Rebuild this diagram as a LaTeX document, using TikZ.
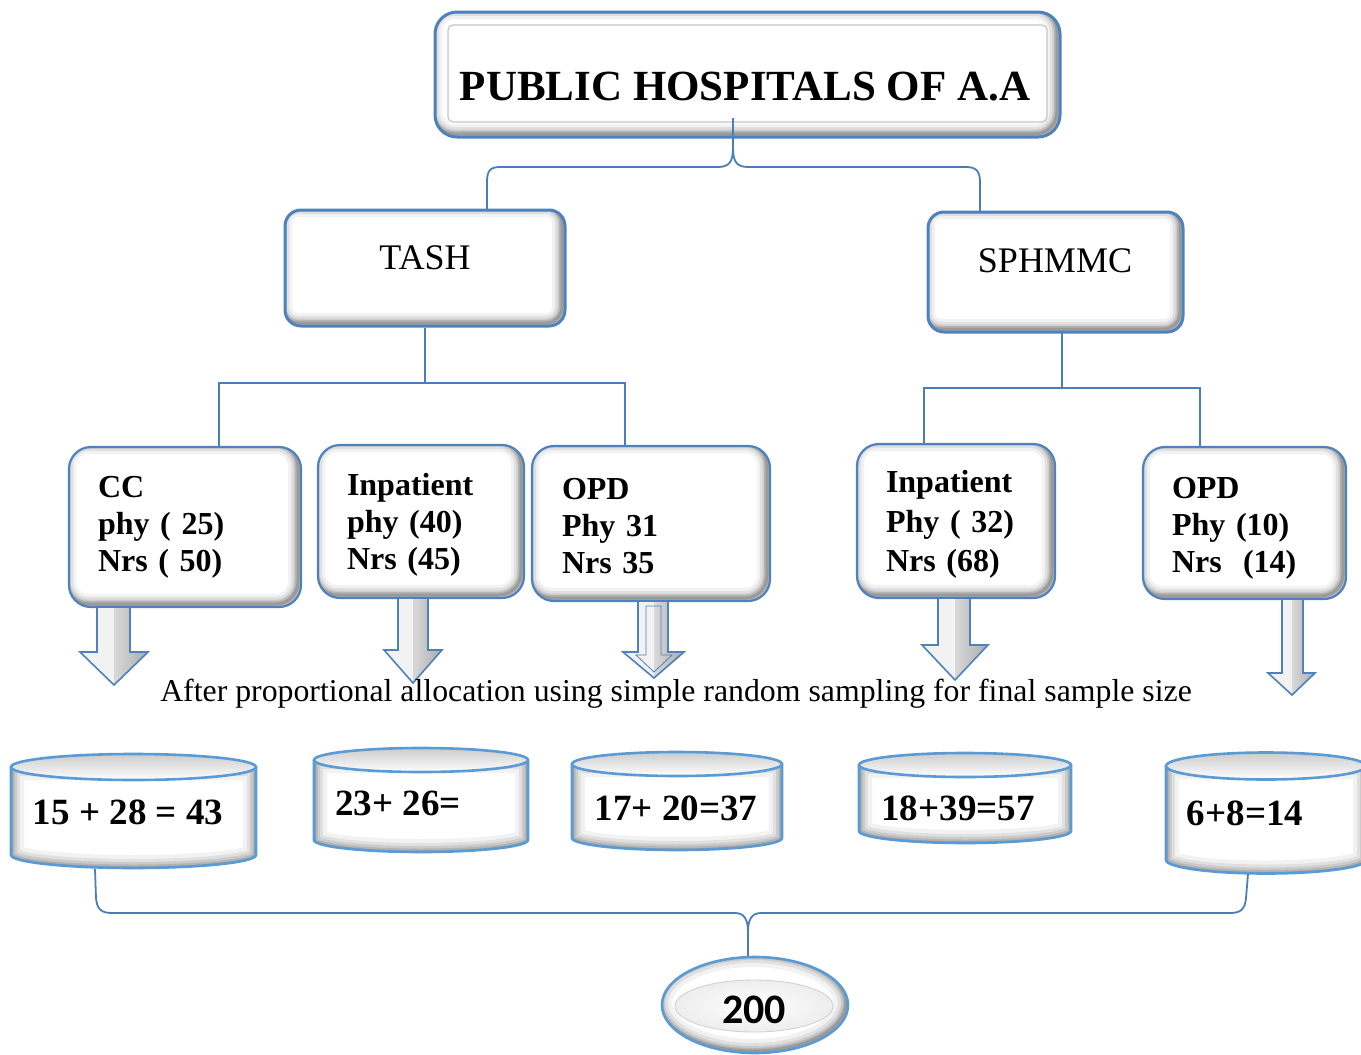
\documentclass[tikz,border=0pt]{standalone}
\usepackage{fontspec}
\setmainfont{Liberation Serif}
\newfontfamily\carlito{Carlito}
\usetikzlibrary{shapes.geometric}
\definecolor{bblue}{RGB}{79,129,189}
\definecolor{cblue}{RGB}{91,155,213}
\definecolor{lblue}{RGB}{74,126,187}
\tikzset{
  glow/.style={path picture={
    \foreach \w/\o in {20/0.05,14/0.07,9/0.09,6/0.11,3/0.14}{
      \draw[black,opacity=\o,line width=\w pt,rounded corners=#1]
        ([shift={(-3pt,3pt)}]path picture bounding box.north west) rectangle
        ([shift={(-3pt,3pt)}]path picture bounding box.south east);}}},
  leaf/.style={draw=bblue, line width=2.2pt, fill=white, rounded corners=22pt,
    align=left, inner ysep=0pt, inner xsep=29pt, glow=22pt,
    font=\fontsize{32}{37}\selectfont\bfseries},
  mid/.style={draw=bblue, line width=3pt, fill=white, rounded corners=16pt, glow=16pt},
  conn/.style={draw=lblue, line width=1.3pt},
  brace/.style={draw=lblue, line width=1.8pt},
  cyltext/.style={inner sep=0pt, font=\fontsize{37}{44}\selectfont\bfseries},
}
% block arrow: x1 x2 ytop neck hx1 hx2 tip cx
\newcommand\barrow[8]{%
  \fill[gray!10] (#1,#3) -- (#8,#3) -- (#8,#7) -- (#5,#4) -- (#1,#4) -- cycle;
  \shade[left color=gray!30, right color=gray!65] (#8,#3) -- (#2,#3) -- (#2,#4) -- (#6,#4) -- (#8,#7) -- cycle;
  \draw[bblue, line width=1.6pt, line join=miter] (#1,#3) -- (#1,#4) -- (#5,#4) -- (#8,#7) -- (#6,#4) -- (#2,#4) -- (#2,#3);
}
% cylinder: cx ytop ybot rx ry
\newcommand\cyl[5]{%
  \begin{scope}
    \path[clip] ({#1-#4},#2) -- ({#1-#4},#3) arc[start angle=180,end angle=360,x radius=#4pt,y radius=#5pt] -- ({#1+#4},#2) -- cycle;
    \fill[white] ({#1-#4},{#2-20}) rectangle ({#1+#4},{#3+#5+5});
    \foreach \w/\o in {26/0.05,18/0.07,12/0.09,7/0.11,3/0.14}{
      \draw[black,opacity=\o,line width=\w pt] ({#1-#4},#2) -- ({#1-#4},#3) arc[start angle=180,end angle=360,x radius=#4pt,y radius=#5pt] -- ({#1+#4},#2) -- cycle;}
  \end{scope}
  \draw[cblue, line width=2.6pt] ({#1-#4},#2) -- ({#1-#4},#3) arc[start angle=180,end angle=360,x radius=#4pt,y radius=#5pt] -- ({#1+#4},#2);
  \shade[top color=gray!40, bottom color=white] (#1,#2) ellipse[x radius=#4pt, y radius=#5pt];
  \draw[cblue, line width=2.6pt] (#1,#2) ellipse[x radius=#4pt, y radius=#5pt];
}
\begin{document}
\begin{tikzpicture}[x=1pt,y=-1pt]
\useasboundingbox (0,0) rectangle (1361,1055);
\fill[white] (0,0) rectangle (1361,1055);

% title
\node[draw=bblue, line width=3pt, fill=white, rounded corners=22pt, glow=22pt,
  minimum width=625pt, minimum height=125pt, inner sep=0pt] (title) at (747.5,74.5) {};
\draw[gray!45, line width=1.2pt, rounded corners=5pt] (448,25) rectangle (1047,122);
\node[font=\fontsize{43}{50}\selectfont\bfseries, inner sep=0pt] (titletext) at (745,87) {PUBLIC HOSPITALS OF A.A};

% top brace
\coordinate (tb) at (733,118);
\coordinate (tl) at (487,212);
\coordinate (tr) at (980,214);
\draw[brace] (tb) -- (733,148) .. controls (733,162) and (729,167) .. (718,167) -- (500,167) .. controls (490,167) and (487,171) .. (487,182) -- (tl);
\draw[brace] (733,148) .. controls (733,162) and (737,167) .. (748,167) -- (966,167) .. controls (976,167) and (980,171) .. (980,182) -- (tr);

% second level
\node[mid, minimum width=280pt, minimum height=116pt] (tash) at (425,268) {};
\node[inner sep=0pt, font=\fontsize{36}{43}\selectfont] (tashtext) at (425,258) {TASH};
\node[mid, minimum width=255pt, minimum height=120pt] (sph) at (1055.5,272) {};
\node[inner sep=0pt, font=\fontsize{36}{43}\selectfont] (sphtext) at (1055,261) {SPHMMC};

% connectors to leaves
\coordinate (tj) at (425,383);
\coordinate (ccT) at (219,448);
\coordinate (opdTT) at (625,447);
\draw[conn] (tash.south) -- (tj);
\draw[conn] (ccT) |- (tj) -| (opdTT);
\coordinate (sb) at (1062,332);
\coordinate (sj) at (1062,388);
\coordinate (ipST) at (924,445);
\coordinate (opdST) at (1200,448);
\draw[conn] (sb) -- (sj);
\draw[conn] (ipST) |- (sj) -| (opdST);

% leaves
\node[leaf, minimum width=232pt, minimum height=160pt, text width=174pt] (cc) at (185,527)
  {CC\\phy ( 25)\\Nrs ( 50)};
\node[leaf, minimum width=206pt, minimum height=153pt, text width=148pt] (ipT) at (421,521.5)
  {\rule{0pt}{29pt}Inpatient\\phy (40)\\Nrs (45)};
\node[leaf, minimum width=238pt, minimum height=155pt, text width=178pt, inner xsep=30pt] (opdT) at (651,523.5)
  {\rule{0pt}{26pt}OPD\\Phy 31\\Nrs 35};
\node[leaf, minimum width=198pt, minimum height=154pt, text width=140pt, font=\fontsize{32}{39.5}\selectfont\bfseries] (ipS) at (956,521)
  {\rule{0pt}{29pt}Inpatient\\Phy ( 32)\\Nrs (68)};
\node[leaf, minimum width=203pt, minimum height=152pt, text width=145pt] (opdS) at (1244.5,523)
  {\rule{0pt}{31pt}OPD\\Phy (10)\\Nrs\ \ (14)};

% block arrows
\barrow{97}{130}{608}{652}{80}{148}{685}{114}
\barrow{398}{428}{599}{650}{384}{442}{683}{413}
\barrow{638}{668}{602}{652}{623}{684}{678}{654}
\draw[bblue, line width=0.8pt] (646,606) -- (646,655) -- (636,655) -- (654,672) -- (672,655) -- (661,655) -- (661,606) -- cycle;
\barrow{938}{970}{599}{645}{922}{988}{680}{955}
\barrow{1282}{1303}{600}{673}{1268}{1315}{695}{1292}

% caption
\node[inner sep=0pt, font=\fontsize{31.8}{36}\selectfont] (cap) at (676,694)
  {After proportional allocation using simple random sampling for final sample size};

% cylinders
\cyl{133.5}{767}{855}{122.5}{13}
\cyl{421}{760}{840}{107}{12}
\cyl{677}{764}{838}{105}{12}
\cyl{965}{765}{831}{106}{12}
\cyl{1266}{766}{860}{100}{13.5}
\node[cyltext] (c1) at (128,812) {15 + 28 = 43};
\node[cyltext, anchor=west] (c2) at (335,803) {23+ 26=};
\node[cyltext] (c3) at (676,808) {17+ 20=37};
\node[cyltext] (c4) at (958,808) {18+39=57};
\node[cyltext] (c5) at (1245,813) {6+8=14};

% bottom brace
\coordinate (b1) at (95,869);
\coordinate (b5) at (1248,874);
\coordinate (bt) at (748,960);
\draw[brace] (b1) -- (96,898) .. controls (97,909) and (101,913) .. (112,913) -- (735,913) .. controls (744,913) and (748,919) .. (748,932) -- (bt);
\draw[brace] (b5) -- (1246,898) .. controls (1245,909) and (1241,913) .. (1230,913) -- (761,913) .. controls (752,913) and (748,919) .. (748,932);

% total
\node[ellipse, draw=cblue, line width=2.6pt, fill=white, inner sep=0pt,
  minimum width=186pt, minimum height=96pt,
  path picture={
    \foreach \w/\o in {24/0.05,16/0.07,10/0.09,6/0.11,3/0.14}{
      \draw[black,opacity=\o,line width=\w pt] ([shift={(-2pt,2pt)}]path picture bounding box.center) ellipse[x radius=93pt, y radius=48pt];}
    \shade[inner color=white, outer color=gray!14] ([shift={(-1pt,-1pt)}]path picture bounding box.center) ellipse[x radius=79pt, y radius=26pt];
    \draw[gray!35, line width=0.9pt] ([shift={(-1pt,-1pt)}]path picture bounding box.center) ellipse[x radius=79pt, y radius=26pt];
  }] (tot) at (755,1005) {};
\node[inner sep=0pt, font=\carlito\bfseries\fontsize{42}{50}\selectfont] (totlab) at (754,1010) {200};
\end{tikzpicture}
\end{document}
